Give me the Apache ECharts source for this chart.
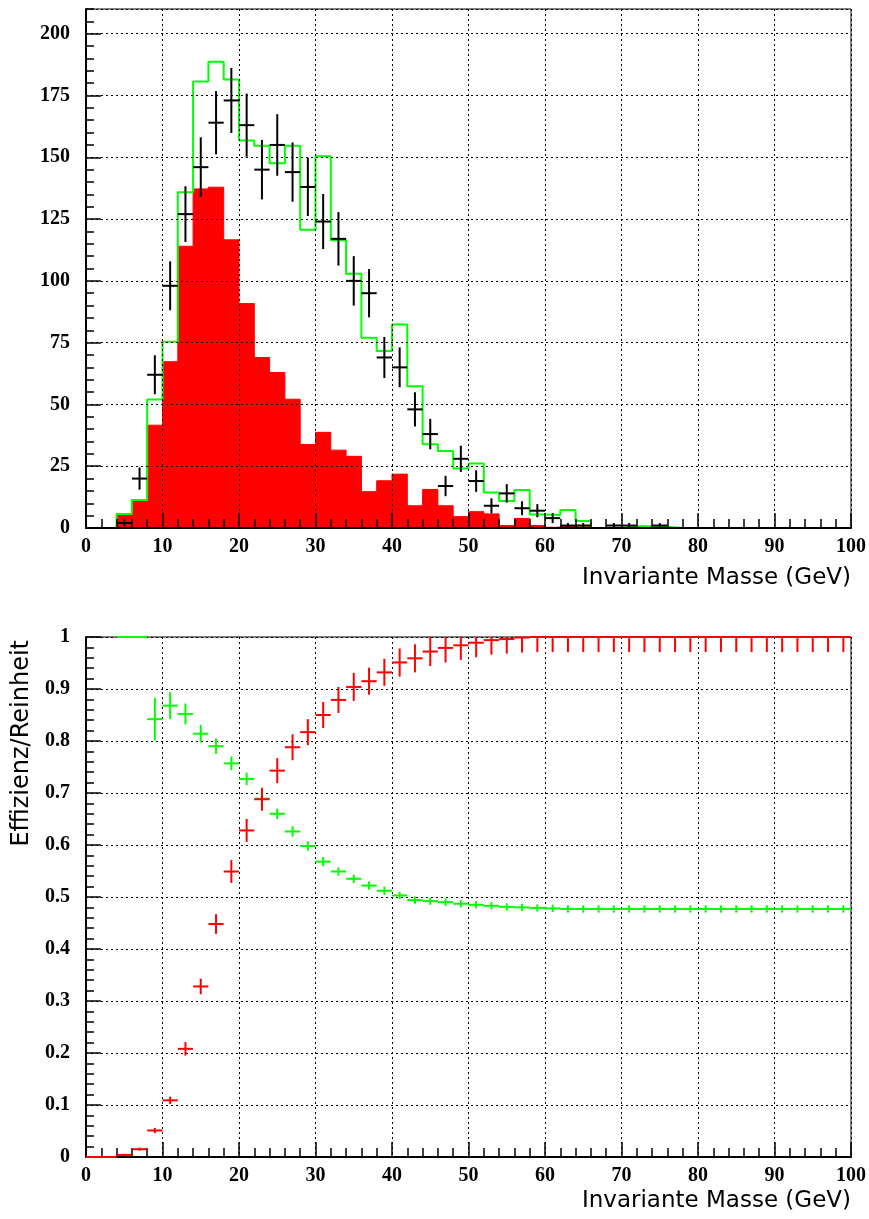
<!DOCTYPE html>
<html><head><meta charset="utf-8">
<script src="https://cdn.jsdelivr.net/npm/echarts/dist/echarts.min.js"></script>
<style>html,body{margin:0;padding:0;background:#fff}#c{width:869px;height:1219px}</style>
</head><body><div id="c"></div>
<script>
// ---------- data ----------
const binWidth = 2;
const binCenters = [1,3,5,7,9,11,13,15,17,19,21,23,25,27,29,31,33,35,37,39,41,43,45,47,49,51,53,55,57,59,61,63,65,67,69,71,73,75,77,79,81,83,85,87,89,91,93,95,97,99];
// top panel: red filled histogram (signal), green step (simulation), black points (data)
const redSignal = [0,0,5.7,11.3,41.6,67.3,114,137.2,137.9,116.6,90.8,69.0,62.9,52.1,33.8,38.7,31.5,29.0,14.7,19.1,21.8,9.0,15.6,9.0,4.6,6.6,5.7,1.0,3.9,1.0,0.3,0.8,0.4,0,0,0,0,0,0,0,0,0,0,0,0,0,0,0,0,0];
const greenMC = [0,0,5.7,11.3,52,75.4,135.9,180.7,188.7,181.5,156.8,154.7,147.6,154.7,120.7,150.4,116.4,102.9,77.0,71.6,82.3,57.4,33.9,31.2,24.1,26.1,14.4,10.9,15.4,5.5,5.3,7.3,2.8,0,0,0.7,0.7,0.5,0,0,0,0,0,0,0,0,0,0,0,0];
const dataCounts = [0,0,2,20,62,98,127,146,164,173,163,145,155,144,138,124,117,100,95,69,65,48,38,17,28,19,9,14,8,7,4,1,1,0,1,1,0,1,0,0,0,0,0,0,0,0,0,0,0,0];
// bottom panel: efficiency (red) and purity (green) with errors
const efficiency = [0,0,0.004,0.015,0.051,0.109,0.208,0.328,0.448,0.549,0.628,0.688,0.743,0.788,0.817,0.850,0.879,0.904,0.915,0.932,0.951,0.959,0.972,0.979,0.984,0.989,0.994,0.996,0.999,1,1,1,1,1,1,1,1,1,1,1,1,1,1,1,1,1,1,1,1,1];
const efficiencyErr = [0,0,0.002,0.003,0.005,0.007,0.013,0.015,0.019,0.022,0.022,0.022,0.024,0.025,0.025,0.025,0.025,0.027,0.026,0.026,0.027,0.027,0.028,0.028,0.028,0.028,0.028,0.028,0.029,0.029,0.029,0.029,0.029,0.029,0.029,0.029,0.029,0.029,0.029,0.029,0.029,0.029,0.029,0.029,0.029,0.029,0.029,0.029,0.029,0.029];
const purity = [null,null,1,1,0.842,0.868,0.852,0.814,0.790,0.757,0.727,0.689,0.660,0.626,0.598,0.568,0.549,0.535,0.522,0.512,0.503,0.494,0.492,0.490,0.487,0.485,0.483,0.481,0.480,0.479,0.478,0.477,0.477,0.477,0.477,0.477,0.477,0.477,0.477,0.477,0.477,0.477,0.477,0.477,0.477,0.477,0.477,0.477,0.477,0.477];
const purityErr = [0,0,0,0,0.041,0.026,0.020,0.017,0.015,0.013,0.012,0.011,0.010,0.010,0.009,0.009,0.008,0.008,0.008,0.008,0.007,0.007,0.007,0.007,0.007,0.007,0.007,0.007,0.007,0.007,0.007,0.007,0.007,0.007,0.007,0.007,0.007,0.007,0.007,0.007,0.007,0.007,0.007,0.007,0.007,0.007,0.007,0.007,0.007,0.007];
const xTitle = 'Invariante Masse (GeV)';
const yTitleBottom = 'Effizienz/Reinheit';

// ---------- helpers ----------
const LABEL_FONT = {fontFamily:'Liberation Serif', fontWeight:'bold', fontSize:20, color:'#000'};
const TITLE_FONT = 'DejaVu Sans';

function histRender(color){
  return function(params, api){
    const x = api.value(0), v = api.value(1);
    if (!v) return null;
    const p1 = api.coord([x - binWidth/2, v]);
    const p2 = api.coord([x + binWidth/2, 0]);
    return {type:'rect', shape:{x:p1[0], y:p1[1], width:p2[0]-p1[0], height:p2[1]-p1[1]},
      style:{fill:color, stroke:color, lineWidth:1}};
  };
}
function crossRender(color, lw, yMax, skipZero){
  return function(params, api){
    const x = api.value(0), y = api.value(1), e = api.value(2);
    if (y == null || isNaN(y)) return null;
    if (skipZero && y === 0) return null;
    const l = api.coord([x - binWidth/2, y]);
    const r = api.coord([x + binWidth/2, y]);
    const lo = api.coord([x, Math.max(y - e, 0)]);
    const hi = api.coord([x, Math.min(y + e, yMax)]);
    return {type:'group', children:[
      {type:'line', shape:{x1:l[0], y1:l[1], x2:r[0], y2:r[1]}, style:{stroke:color, lineWidth:lw}},
      {type:'line', shape:{x1:lo[0], y1:lo[1], x2:hi[0], y2:hi[1]}, style:{stroke:color, lineWidth:lw}}
    ]};
  };
}
function xAxisCfg(gi, nameTop){
  return {
    gridIndex:gi, type:'value', min:0, max:100, interval:10, z:10,
    name:xTitle, nameLocation:'end', nameGap:0,
    nameTextStyle:{fontFamily:TITLE_FONT, fontSize:23, color:'#000', align:'right', verticalAlign:'top', padding:[nameTop,0,0,0]},
    axisLine:{show:true, onZero:false, lineStyle:{color:'#000', width:2}},
    axisTick:{show:true, inside:true, length:15, lineStyle:{color:'#000', width:1.5}},
    minorTick:{show:true, splitNumber:5, length:9, lineStyle:{color:'#000', width:1.5}},
    splitLine:{show:true, lineStyle:{color:'#000', type:[2,3], width:1}},
    axisLabel:Object.assign({margin:9}, LABEL_FONT)
  };
}

const greenStep = [];
binCenters.forEach((c,i)=>{ greenStep.push([c - binWidth/2, greenMC[i]], [c + binWidth/2, greenMC[i]]); });

const chart = echarts.init(document.getElementById('c'), null, {renderer:'canvas'});
chart.setOption({
  animation:false,
  backgroundColor:'#fff',
  grid:[
    {left:86, top:9, width:765, height:519, show:true, borderColor:'#000', borderWidth:1, backgroundColor:'transparent', z:10},
    {left:86, top:637, width:765, height:520, show:true, borderColor:'#000', borderWidth:1, backgroundColor:'transparent', z:10}
  ],
  xAxis:[ xAxisCfg(0, 39), xAxisCfg(1, 33) ],
  yAxis:[
    {gridIndex:0, type:'value', min:0, max:210, interval:25, position:'left', z:10,
      axisLine:{show:true, lineStyle:{color:'#000', width:2}},
      axisTick:{show:true, inside:true, length:15, lineStyle:{color:'#000', width:1.5}},
      splitLine:{show:true, lineStyle:{color:'#000', type:[2,3], width:1}},
      axisLabel:Object.assign({margin:16, showMaxLabel:false}, LABEL_FONT)},
    {gridIndex:0, type:'value', min:0, max:210, interval:5, position:'left', offset:0, z:10,
      axisLine:{show:false}, axisLabel:{show:false}, splitLine:{show:false},
      axisTick:{show:true, inside:true, length:8, lineStyle:{color:'#000', width:1.5}}},
    {gridIndex:1, type:'value', min:0, max:1, interval:0.1, position:'left', z:10,
      axisLine:{show:true, lineStyle:{color:'#000', width:2}},
      axisTick:{show:true, inside:true, length:15, lineStyle:{color:'#000', width:1.5}},
      minorTick:{show:true, splitNumber:5, length:8, lineStyle:{color:'#000', width:1.5}},
      splitLine:{show:true, lineStyle:{color:'#000', type:[2,3], width:1}},
      axisLabel:Object.assign({margin:16}, LABEL_FONT)}
  ],
  graphic:[
    {type:'text', x:10, y:640, rotation:Math.PI/2,
      style:{text:yTitleBottom, fontFamily:TITLE_FONT, fontSize:24, fill:'#000', align:'right', verticalAlign:'top'}}
  ],
  series:[
    {type:'custom', name:'Signal', xAxisIndex:0, yAxisIndex:0, z:2, clip:true,
      renderItem:histRender('#ff0000'), encode:{x:0, y:1},
      data:binCenters.map((c,i)=>[c, redSignal[i]])},
    {type:'line', name:'Simulation', xAxisIndex:0, yAxisIndex:0, z:3, showSymbol:false, symbol:'none',
      lineStyle:{color:'#00ff00', width:2}, data:greenStep},
    {type:'custom', name:'Daten', xAxisIndex:0, yAxisIndex:0, z:4,
      renderItem:crossRender('#000', 2, 210, true), encode:{x:0, y:1},
      data:binCenters.map((c,i)=>[c, dataCounts[i], Math.sqrt(dataCounts[i])])},
    {type:'custom', name:'Reinheit', xAxisIndex:1, yAxisIndex:2, z:11,
      renderItem:crossRender('#00ff00', 2, 1, false), encode:{x:0, y:1},
      data:binCenters.map((c,i)=>[c, purity[i], purityErr[i]])},
    {type:'custom', name:'Effizienz', xAxisIndex:1, yAxisIndex:2, z:12,
      renderItem:crossRender('#ff0000', 2, 1, false), encode:{x:0, y:1},
      data:binCenters.map((c,i)=>[c, efficiency[i], efficiencyErr[i]])}
  ]
});
</script></body></html>
